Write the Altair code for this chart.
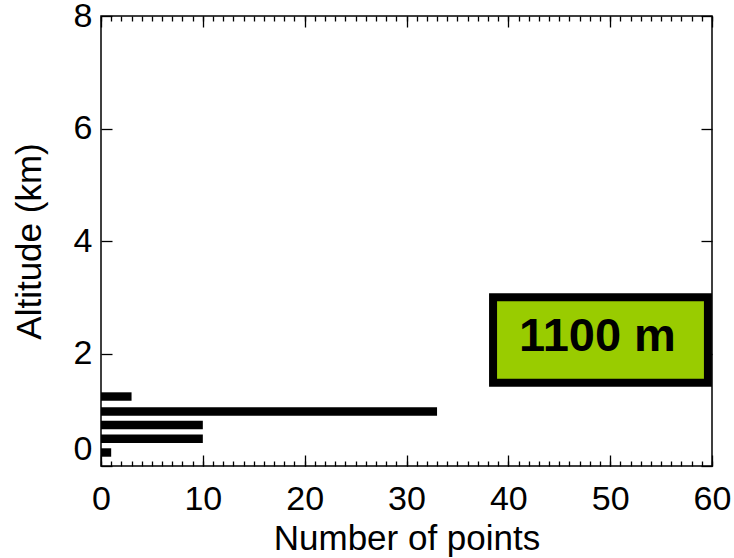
import altair as alt
import pandas as pd

# Histogram data: altitude bin centres (km) and number of points
altitude_km = [0.24, 0.485, 0.73, 0.97, 1.235]
n_points = [1, 10, 10, 33, 3]
bar_half_height = 0.075

x_major = [0, 10, 20, 30, 40, 50, 60]
x_minor = list(range(0, 61))
y_major = [0, 2, 4, 6, 8]

# annotation box
box_label = ["1100 m"]
box_x = [38.5]
box_x2 = [59.6]
box_y = [1.48]
box_y2 = [3.0]

FONT = "Liberation Sans"

df = pd.DataFrame({"alt": altitude_km, "n": n_points})
df["lo"] = df["alt"] - bar_half_height
df["hi"] = df["alt"] + bar_half_height
df["zero"] = 0

box = pd.DataFrame({"label": box_label, "x": box_x, "x2": box_x2, "y": box_y, "y2": box_y2})
box["tx"] = (box["x"] + box["x2"]) / 2
box["ty"] = (box["y"] + box["y2"]) / 2

xs = alt.Scale(domain=[0, 60], nice=False, zero=False)
ys = alt.Scale(domain=[0, 8], nice=False, zero=False)

def tick_axis(orient, values, size):
    return alt.Axis(orient=orient, values=values, labels=False, title=None,
                    domain=False, grid=False, ticks=True,
                    tickSize=alt.ExprRef(str(-size)), tickColor="black", tickWidth=1.3)

bars = alt.Chart(df).mark_rect(color="black").encode(
    x=alt.X("zero:Q", scale=xs,
            axis=alt.Axis(orient="bottom", values=x_major, title="Number of points",
                          ticks=False, domain=False, grid=False,
                          labelFont=FONT, labelFontSize=34, labelColor="black",
                          labelPadding=16, labelFlush=False,
                          titleFont=FONT, titleFontSize=35, titleFontWeight="normal",
                          titleColor="black", titlePadding=5)),
    x2="n:Q",
    y=alt.Y("lo:Q", scale=ys,
            axis=alt.Axis(orient="left", values=y_major, title="Altitude (km)",
                          ticks=False, domain=False, grid=False,
                          labelFont=FONT, labelFontSize=34, labelColor="black",
                          labelPadding=9, labelFlush=False,
                          labelBaseline=alt.condition("datum.value === 0",
                                                      alt.value("bottom"),
                                                      alt.value("middle")),
                          titleFont=FONT, titleFontSize=35, titleFontWeight="normal",
                          titleColor="black", titlePadding=26)),
    y2="hi:Q",
)

def ghost(xaxis, yaxis):
    return alt.Chart(df).mark_rect(opacity=0).encode(
        x=alt.X("zero:Q", scale=xs, axis=xaxis),
        x2="n:Q",
        y=alt.Y("lo:Q", scale=ys, axis=yaxis),
        y2="hi:Q",
    )

g1 = ghost(tick_axis("bottom", x_major, 11), tick_axis("left", y_major, 11))
g2 = ghost(tick_axis("bottom", x_minor, 5), tick_axis("right", y_major, 11))
g3 = ghost(tick_axis("top", x_major, 11), None)
g4 = ghost(tick_axis("top", x_minor, 5), None)

rect = alt.Chart(box).mark_rect(fill="#99cc00", stroke="black", strokeWidth=8).encode(
    x=alt.X("x:Q", scale=xs, axis=None), x2="x2:Q",
    y=alt.Y("y:Q", scale=ys, axis=None), y2="y2:Q",
)
label = alt.Chart(box).mark_text(font=FONT, fontSize=47, fontWeight="bold", color="black",
                                 align="center", baseline="middle", dx=-3, dy=-3).encode(
    x=alt.X("tx:Q", scale=xs, axis=None),
    y=alt.Y("ty:Q", scale=ys, axis=None),
    text="label:N",
)

chart = alt.layer(bars, g1, g2, g3, g4, rect, label).resolve_axis(
    x="independent", y="independent"
).properties(
    width=611, height=450,
    autosize=alt.AutoSizeParams(type="none"),
    padding={"left": 101, "top": 16, "right": 22, "bottom": 92},
    background="white",
).configure_view(stroke="black", strokeWidth=1.5)

chart.save("out.html", embed_options={"renderer": "svg", "actions": False})
